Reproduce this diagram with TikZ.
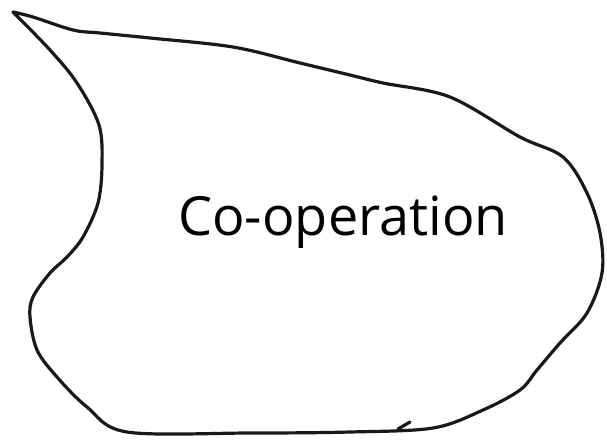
\documentclass[tikz,border=0pt]{standalone}
\usepackage{fontspec}
\setmainfont{Open Sans}
\usetikzlibrary{positioning}
\tikzset{
  blob/.style={line width=3.2pt, line cap=round, line join=round, black!90},
  label/.style={font=\fontsize{54}{58}\selectfont, inner sep=0pt}
}

\begin{document}
\begin{tikzpicture}[x=1pt, y=-1pt]
      \useasboundingbox (0,0) rectangle (607,440);

      % outline
      \draw[blob] plot[smooth, tension=0.55] coordinates {
        (13,12) (33,17) (73,30) (100,33) (150,38) (233,47) (300,63)
        (350,75) (383,83) (450,97) (520,137) (563,157) (587,193)
        (600,233) (602,273) (587,313) (560,343) (537,370) (520,390)
        (483,410) (433,428) (350,432) (250,433) (127,432) (87,407)
        (57,377) (37,350) (30,317) (33,297) (50,273) (67,257)
        (83,237) (98,203) (102,165) (99,125) (77,83) (50,50) (13,12)};
      \draw[blob] (398,429) -- (410,422);

      \node[label] (coop) at (343,222) {Co-operation};
    \end{tikzpicture}
\end{document}
